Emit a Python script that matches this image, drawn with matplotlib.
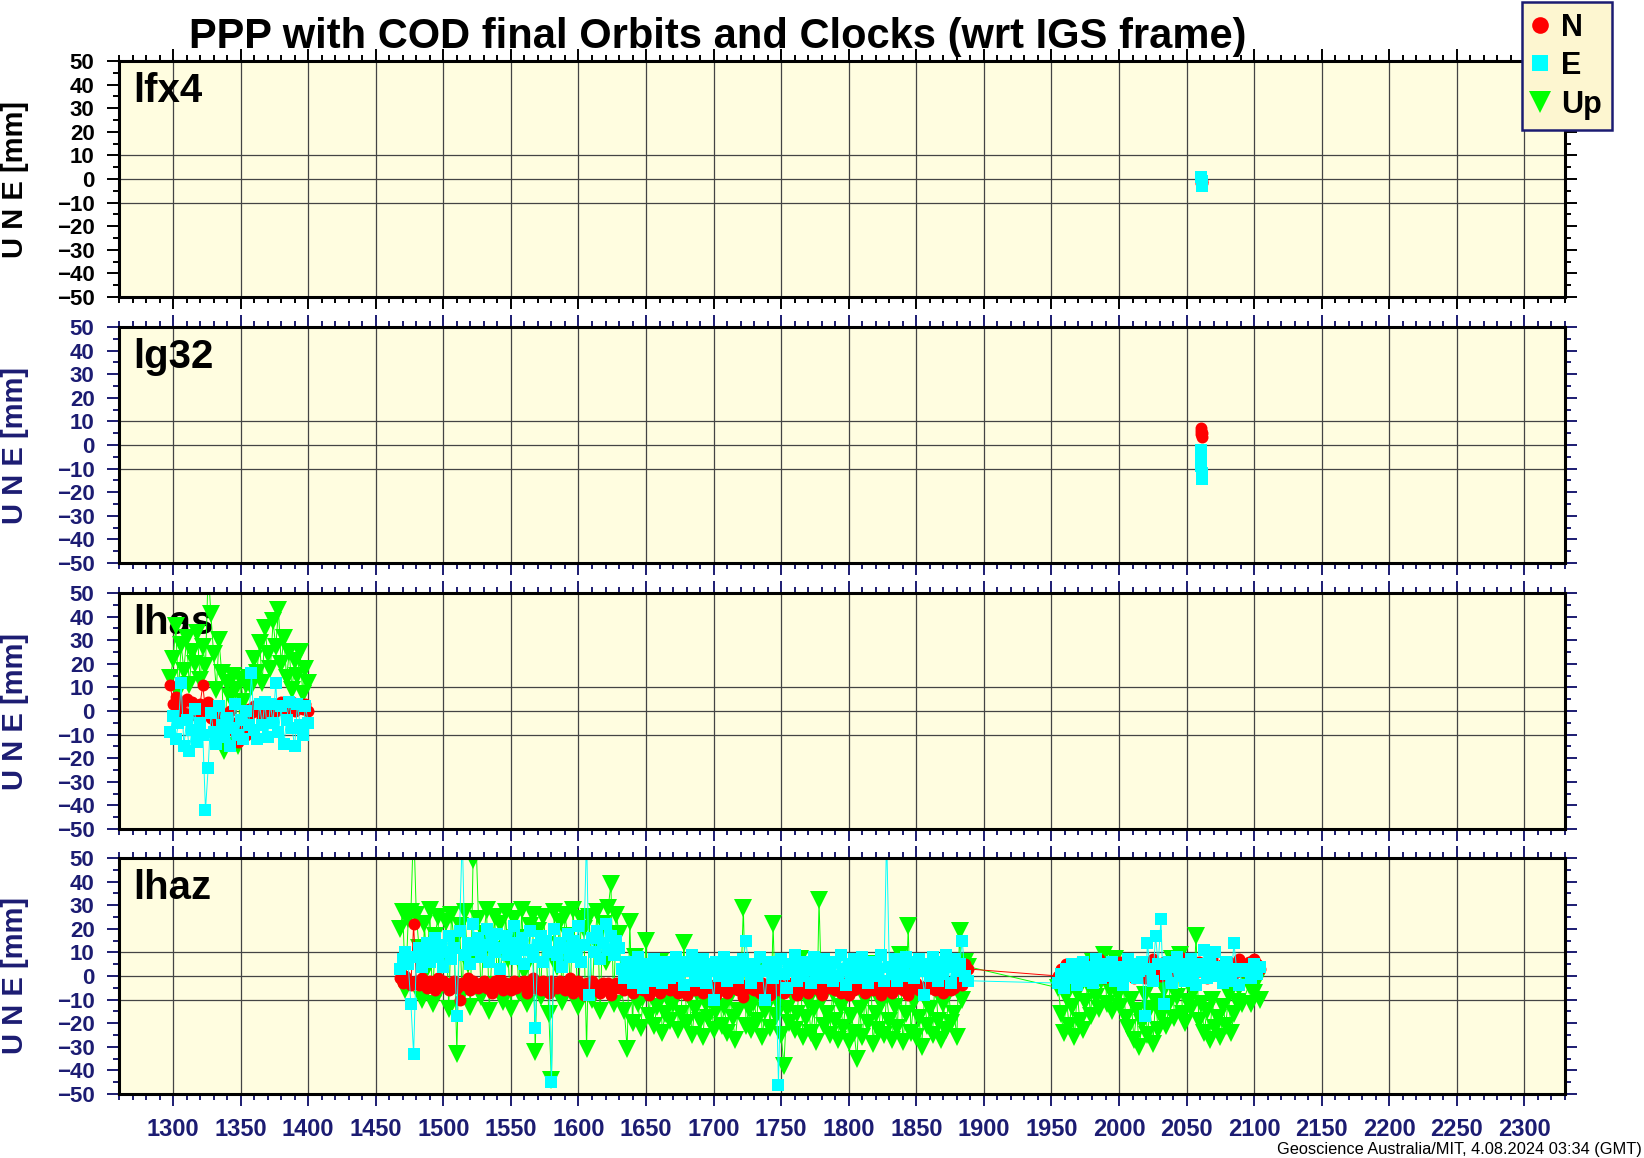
import numpy as np
import matplotlib
matplotlib.use("Agg")
import matplotlib.pyplot as plt
from matplotlib.lines import Line2D
from matplotlib.ticker import MultipleLocator

plt.rcParams['font.family'] = ['Liberation Sans', 'DejaVu Sans']
plt.rcParams['font.weight'] = 'bold'
plt.rcParams['axes.unicode_minus'] = True

# ---------------- text ----------------
TITLE = "PPP with COD final Orbits and Clocks (wrt IGS frame)"
FOOTER = "Geoscience Australia/MIT, 4.08.2024 03:34 (GMT)"
YLABEL = "U N E [mm]"
SERIES = ["N", "E", "Up"]
Y_TICKS = list(range(-50, 51, 10))
Y_GRID = [-10, 0, 10]

# ---------------- data ----------------
# lfx4
lfx4_x = [2060.8, 2061.2, 2061.6]
lfx4_n = [-1.5, -1.0, -1.5]
lfx4_e = [1.0, -1.0, -3.0]

# lg32
lg32_x = [2060.6, 2060.8, 2061.0, 2061.2, 2061.4]
lg32_n = [7, 6, 4.5, 3.5, 5]
lg32_e = [-2, -5, -9, -12, -14.5]

# lhas (epochs 1298 .. 1400 every 2)
lhas_x = np.arange(1298, 1401, 2)
lhas_n = [11, 3, 6, 0, 3, -1, 5, -2, 4, 1,
          -1, 3, 11, 0, 4, -3, 2, -5, 1, -2,
          -4, -7, 0, -5, -9, -13, -8, -3, -10, 1,
          -1, 2, 0, 3, -3, 1, 2, -1, 2, 0,
          2, 4, 1, 3, 1, 4, 0, 2, 3, 1,
          3, 0]
lhas_e = [-9, -2, -12, -5, 12, -15, -4, -17, -8, 1,
          -13, -5, -10, -42, -24, -1, -9, -14, 2, -6,
          -11, -3, -15, -7, 3, -10, -4, -12, 0, -6,
          16, -8, -12, 3, -6, 4, -11, 3, -5, 12,
          -9, 2, -14, -4, 4, -7, -15, 3, -6, -10,
          2, -5]
lhas_u = [14, 22, 36, 8, 28, 17, 31, 11, 25, 20,
          33, 13, 27, 19, 60, 41, 24, 9, 30, 16,
          -17, 12, 6, 15, 9, -15, 13, 4, 11, 14,
          10, 22, 16, 29, 12, 35, 24, 18, 38, 27,
          43, 20, 31, 14, 25, 9, 21, 15, 25, 7,
          18, 12]

# lhaz (epochs 1468..1888, 1955..2091 every 2, then 2096..2104)
lhaz_x = np.concatenate([np.arange(1468, 1889, 2),
                         np.arange(1955, 2092, 2),
                         np.arange(2096, 2105, 2)])
lhaz_e = [3, 7, 10, 5, -12, -33, 8, 12, 4, 9,
          14, 6, 11, 16, 8, 13, 4, 10, 17, 7,
          12, -17, 19, 60, 9, 14, 5, 22, 11, 16,
          8, 13, 20, 6, 15, 10, 18, 3, 12, 17,
          9, 14, 21, 7, 12, 16, 5, 11, 19, 8,
          -22, 13, 17, 6, 15, 10, -45, 20, 9, 14,
          4, 12, 18, 8, 15, 11, 21, 6, 13, 60,
          -8, 16, 10, 19, 7, 14, 22, 11, 17, 9,
          15, 12,
          3, -1, 6, 1, -3, 4, 8, 0,
          -5, 5, 2, -2, 7, 1, 4, -3, 6, 2,
          -1, 5, 8, 0, 3, -4, 6, 2, 9, -2,
          4, 1, 7, -3, 5, 2, -10, 6, 0, 3,
          8, -2, 4, 1, 6, -1, 3, 7, 15, 2,
          -3, 5, 0, 8, 2, -10, 4, 6, -1, 3,
          -46, 7, 1, -5, 5, 2, 9, -2, 4, 0,
          6, 3, -3, 8, 1, 5, -1, 7, 2, 4,
          -2, 6, 0, 9, 3, -4, 5, 1, 7, -1,
          4, 8, 2, -3, 6, 0, 5, 3, 9, -2,
          60, 4, 1, 7, -2, 5, 3, 8, 0, 6,
          -1, 4, 7, 2, -8, 5, 0, 8, 3, -2,
          6, 1, 9, 4, -3, 7, 2, 5, 15, 0,
          -2,
          -3, 1, -5, 3, -1, 5, 0, -4, 2, 6,
          -2, 4, 1, -3, 7, 2, -1, 5, 0, 3,
          6, -2, 4, 1, -4, 3, 7, 0, 5, -1,
          2, 6, -17, 14, 3, -2, 17, 5, 24, -12,
          1, 6, -3, 4, 8, 0, 5, -2, 3, 7,
          1, -4, 5, 2, 11, -1, 6, 3, 10, 0,
          4, -3, 6, 1, -2, 14, 3, -4, 2,
          3, -1, 5, 1, 4]
lhaz_n = [-1, -3, 0, -2, -4, 22, -2, -4, -1, -3,
          -5, -2, -3, -6, -1, -4, -2, -3, -6, -4,
          -2, -5, -10, -3, -4, -1, -6, -2, -4, -5,
          -3, -2, -5, -4, -7, -2, -4, -1, -6, -3,
          -4, -6, -2, -5, -3, -4, -2, -7, -4, -1,
          -5, -3, -6, -2, -4, -7, -2, -4, -5, -2,
          -3, -6, -4, -1, -7, -4, -2, -5, -8, -3,
          -4, -2, -6, -4, -7, -3, -5, -3, -8, -5,
          -3, -5,
          -4, -6, -5, -3, -7, -5, -3, -5,
          -6, -4, -8, -5, -3, -5, -7, -3, -5, -4,
          -6, -5, -3, -7, -5, -4, -8, -5, -3, -6,
          -4, -5, -7, -3, -5, -6, -4, -8, -5, -3,
          -5, -7, -4, -5, -3, -6, -5, -9, -4, -5,
          -3, -6, -5, -7, -3, -5, -4, -8, -5, -6,
          -3, -5, -7, -4, -5, -3, -6, -8, -5, -4,
          -5, -7, -3, -5, -4, -6, -8, -5, -3, -5,
          -4, -6, -5, -7, -3, -5, -8, -4, -6, -5,
          -3, -5, -7, -4, -5, -6, -3, -5, -8, -6,
          -4, -5, -7, -3, -5, -3, -6, -5, -8, -4,
          -5, -3, -6, -5, -7, -4, -5, -3, -6, -5,
          -3, -7, -5, -4, -6, -5, -2, 1, -4, 5,
          3,
          0, 3, -2, 5, 1, -1, 4, 2, 6, 0,
          3, -2, 5, 1, 4, 7, 2, -1, 3, 5,
          1, 4, -2, 6, 2, 0, 5, 3, -1, 4,
          6, 2, -1, 5, 3, 7, 1, 4, 0, 6,
          3, 5, 1, 7, 4, 8, 6, 2, 5, 3,
          0, 4, 6, 2, 5, -1, 3, 7, 1, 4,
          2, 5, 0, 6, 3, 1, 4, 7, 2,
          6, 4, 7, 5, 3]
lhaz_u = [20, 27, -6, 24, 27, 65, 26, 12, -10, 22,
          3, 28, -12, 17, 25, -5, 9, 23, -14, 26,
          14, -33, 21, -8, 27, 5, -13, 49, 62, 24,
          -9, 18, 28, -15, 11, 25, -4, 22, -11, 27,
          7, -14, 24, 16, -7, 28, 2, -12, 21, 26,
          -32, 19, -9, 25, 13, -16, -44, 27, 4, 23,
          -11, 26, 17, -6, 28, 9, -13, 24, 20, -31,
          25, -10, 15, 27, -15, 22, 6, 29, 39, -12,
          26, 18,
          -6, -15, -31, 23, -20, 8, -12, -22,
          -9, 15, -17, -6, -21, -13, 6, -24, -16, -10,
          -19, -12, 3, -23, -16, 14, -20, -9, -25, -14,
          -7, -19, -26, -12, -18, -8, -23, -15, 2, -21,
          -13, -24, -9, -18, -27, -15, -7, 29, -21, -14,
          -23, -11, -19, 4, -26, -15, -8, -22, 22, -17,
          -12, -25, -38, -14, -20, -8, -23, -16, 7, -26,
          -18, -11, -24, -14, -28, 32, -10, -21, -16, -25,
          -7, -19, -27, -13, -22, -9, -28, -17, -24, -35,
          -14, -26, -10, -20, 5, -29, -16, -23, -12, -25,
          -8, -19, -27, -13, -22, 9, -28, -16, 21, -24,
          -11, -26, -18, -30, -9, -21, -14, -25, 2, -19,
          -27, -12, -23, -7, -20, -16, -26, 19, -10, 6,
          4,
          -5, -16, -24, -9, -21, -13, -26, -7, -19, -23,
          -11, -4, -17, 6, -9, -14, -2, 9, -12, -6,
          -15, 7, -8, -13, -3, -18, -22, -10, -27, -15,
          -30, -20, -8, -25, -14, -29, -11, -23, -17, -6,
          -21, -12, 7, -18, -9, 9, -16, -20, -11, -14,
          -7, 17, -19, -12, -24, -15, -27, -10, -22, -18,
          -26, -13, -21, -8, -24, -16, -11, -5, -12,
          -4, -12, -7, -2, -10]

panels = [
    dict(name="lfx4", x=lfx4_x, n=lfx4_n, e=lfx4_e, u=None),
    dict(name="lg32", x=lg32_x, n=lg32_n, e=lg32_e, u=None),
    dict(name="lhas", x=lhas_x, n=lhas_n, e=lhas_e, u=lhas_u),
    dict(name="lhaz", x=lhaz_x, n=lhaz_n, e=lhaz_e, u=lhaz_u),
]

# ---------------- style ----------------
W, H = 1644, 1158
NAVY = '#1c1c72'
BG = '#fffde0'
C_N, C_E, C_U = '#ff0000', '#00ffff', '#00ff00'

fig = plt.figure(figsize=(W / 100, H / 100), dpi=100)
fig.patch.set_facecolor('white')

left_px, right_px = 119, 1565
tops = [61, 327, 593, 858]
hpx = 236

for i, p in enumerate(panels):
    top = tops[i]
    ax = fig.add_axes([left_px / W, 1 - (top + hpx) / H,
                       (right_px - left_px) / W, hpx / H])
    tc = 'black' if i == 0 else NAVY
    ax.set_facecolor(BG)
    ax.set_xlim(1260, 2330)
    ax.set_ylim(-50, 50)
    for s in ax.spines.values():
        s.set_linewidth(2.2)
        s.set_color('black')
        s.set_zorder(10)
    ax.xaxis.set_major_locator(MultipleLocator(50))
    ax.xaxis.set_minor_locator(MultipleLocator(10))
    ax.set_yticks(Y_TICKS)
    ax.yaxis.set_minor_locator(MultipleLocator(5))
    ax.tick_params(axis='both', which='both', direction='out', top=True,
                   right=True, color=tc, labelcolor=tc, width=1.4)
    ax.tick_params(axis='both', which='major', length=8.6)
    ax.tick_params(axis='both', which='minor', length=4.3)
    ax.tick_params(axis='y', labelsize=16, pad=9)
    ax.tick_params(axis='x', labelsize=17, pad=8.5,
                   labelbottom=(i == len(panels) - 1))
    ax.set_axisbelow(True)
    ax.grid(axis='x', which='major', color='#444444', lw=0.9)
    for yg in Y_GRID:
        ax.axhline(yg, color='#444444', lw=0.9, zorder=0.6)

    ax.text(0.0097, 0.953, p['name'], transform=ax.transAxes, fontsize=29,
            fontweight='bold', ha='left', va='top', zorder=1.5)

    if p['u'] is not None:
        ax.plot(p['x'], p['u'], color=C_U, lw=0.7, marker='v', ms=13,
                mew=0, zorder=2)
    ax.plot(p['x'], p['n'], color=C_N, lw=0.7, marker='o', ms=8.6,
            mew=0, zorder=3)
    ax.plot(p['x'], p['e'], color=C_E, lw=0.7, marker='s', ms=8.6,
            mew=0, zorder=4)

    fig.text(15 / W, 1 - (top + hpx / 2) / H, YLABEL, rotation=90,
             ha='center', va='center', fontsize=21, fontweight='bold',
             color=tc)

fig.text(718 / W, 1 - 48 / H, TITLE, ha='center', va='baseline',
         fontsize=30, fontweight='bold', color='black')
fig.text(1642 / W, 1 - 1154 / H, FOOTER, ha='right', va='baseline',
         fontsize=11.8, fontweight='normal', color='black')

handles = [
    Line2D([], [], ls='none', marker='o', color=C_N, ms=12, mew=0),
    Line2D([], [], ls='none', marker='s', color=C_E, ms=11, mew=0),
    Line2D([], [], ls='none', marker='v', color=C_U, ms=16.5, mew=0),
]
leg = fig.legend(handles, SERIES, loc='upper left',
                 bbox_to_anchor=(1522 / W, 1 - 2 / H),
                 bbox_transform=fig.transFigure, frameon=True,
                 fancybox=False, edgecolor=NAVY, facecolor='#fdf6d0',
                 framealpha=1, prop={'weight': 'bold', 'size': 22},
                 handlelength=0.5, handletextpad=0.42, borderpad=0.35,
                 labelspacing=0.275, borderaxespad=0)
leg.get_frame().set_linewidth(1.8)

fig.savefig('out.png', dpi=100)
